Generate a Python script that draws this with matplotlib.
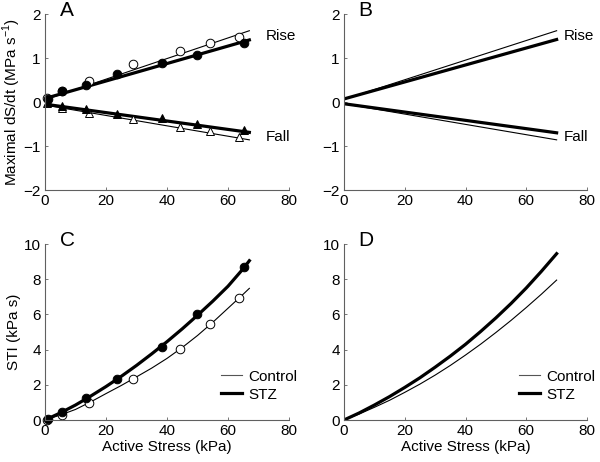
import numpy as np
import matplotlib
matplotlib.use('Agg')
matplotlib.rcParams['font.family'] = 'Liberation Sans'
matplotlib.rcParams['mathtext.fontset'] = 'custom'
matplotlib.rcParams['mathtext.rm'] = 'Liberation Sans'
import matplotlib.pyplot as plt

# panel A: measured points
stress_ctl = [0.5, 5.5, 14.5, 28.7, 44.2, 54.2, 63.6]
stress_stz = [1.1, 5.7, 13.4, 23.5, 38.2, 49.7, 65.3]
rise_ctl = [0.08, 0.26, 0.48, 0.86, 1.17, 1.33, 1.48]
rise_stz = [0.07, 0.24, 0.39, 0.63, 0.89, 1.06, 1.33]
fall_ctl = [-0.02, -0.13, -0.24, -0.39, -0.56, -0.66, -0.79]
fall_stz = [0.0, -0.09, -0.17, -0.28, -0.37, -0.49, -0.64]

# panel A fits (end points)
fitA_x = [0, 67]
fitA_rise_ctl = [0.05, 1.62]
fitA_rise_stz = [0.08, 1.41]
fitA_fall_ctl = [-0.07, -0.86]
fitA_fall_stz = [-0.05, -0.69]

# panel B model lines
lineB_x = [0, 70]
lineB_rise_ctl = [0.06, 1.62]
lineB_rise_stz = [0.07, 1.42]
lineB_fall_ctl = [-0.04, -0.86]
lineB_fall_stz = [-0.04, -0.70]

# panel C: STI points and fitted curves
sti_ctl = [0.0, 0.28, 0.98, 2.33, 4.03, 5.47, 6.93]
sti_stz = [0.06, 0.44, 1.23, 2.33, 4.17, 6.00, 8.71]
fitC_x = [0, 5, 10, 15, 20, 25, 30, 35, 40, 45, 50, 55, 60, 65, 67]
fitC_ctl = [0.0, 0.28, 0.6, 1.03, 1.5, 1.96, 2.45, 2.95, 3.5, 4.12, 4.8,
            5.55, 6.35, 7.15, 7.48]
fitC_stz = [0.0, 0.4, 0.85, 1.36, 1.9, 2.48, 3.1, 3.76, 4.45, 5.18, 5.95,
            6.75, 7.6, 8.6, 9.05]

# panel D model curves
curveD_x = [0, 5, 10, 15, 20, 25, 30, 35, 40, 45, 50, 55, 60, 65, 70]
curveD_ctl = [0.0, 0.34, 0.72, 1.12, 1.57, 2.04, 2.55, 3.1, 3.69, 4.31,
              4.97, 5.66, 6.39, 7.15, 7.95]
curveD_stz = [0.0, 0.4, 0.85, 1.33, 1.85, 2.4, 3.0, 3.63, 4.3, 5.03, 5.8,
              6.62, 7.5, 8.45, 9.45]

fig = plt.figure(figsize=(6, 4.62), dpi=100)
W, H = 600.0, 462.0
def make_ax(l, r, t, b):
    ax = fig.add_axes([l / W, 1 - b / H, (r - l) / W, (b - t) / H])
    for s in ['top', 'right']:
        ax.spines[s].set_visible(False)
    for s in ['left', 'bottom']:
        ax.spines[s].set_color('#606060')
        ax.spines[s].set_linewidth(0.8)
    ax.tick_params(direction='in', length=2.5, width=0.6, color='#606060',
                   labelsize=11)
    ax.tick_params(axis='x', pad=3)
    ax.tick_params(axis='y', pad=3)
    ax.set_xlim(0, 80)
    ax.set_xticks([0, 20, 40, 60, 80])
    return ax

axA = make_ax(45, 289, 14, 190)
axB = make_ax(344, 587, 14, 190)
axC = make_ax(45, 289, 244, 420)
axD = make_ax(344, 587, 244, 420)

thin = 0.8
thick = 2.3
mo = dict(markersize=6.2, markeredgewidth=0.7, clip_on=False, linestyle='none')

# A
axA.plot(fitA_x, fitA_rise_ctl, color='k', lw=thin)
axA.plot(fitA_x, fitA_rise_stz, color='k', lw=thick)
axA.plot(fitA_x, fitA_fall_ctl, color='k', lw=thin)
axA.plot(fitA_x, fitA_fall_stz, color='k', lw=thick)
axA.plot(stress_ctl, rise_ctl, marker='o', mfc='white', mec='k', **mo)
axA.plot(stress_stz, rise_stz, marker='o', mfc='k', mec='k', **mo)
axA.plot(stress_ctl, fall_ctl, marker='^', mfc='white', mec='k', **mo)
axA.plot(stress_stz, fall_stz, marker='^', mfc='k', mec='k', **mo)

# B
axB.plot(lineB_x, lineB_rise_ctl, color='k', lw=thin)
axB.plot(lineB_x, lineB_rise_stz, color='k', lw=thick)
axB.plot(lineB_x, lineB_fall_ctl, color='k', lw=thin)
axB.plot(lineB_x, lineB_fall_stz, color='k', lw=thick)

for ax in (axA, axB):
    ax.set_ylim(-2, 2)
    ax.set_yticks([-2, -1, 0, 1, 2])
    ax.text(72.5, 1.5, 'Rise', fontsize=11, va='center', clip_on=False)
    ax.text(72.5, -0.79, 'Fall', fontsize=11, va='center', clip_on=False)
axA.set_ylabel('Maximal dS/dt (MPa s$^{-1}$)', fontsize=11, labelpad=0.5)

# C
axC.plot(fitC_x, fitC_ctl, color='k', lw=thin, label='Control')
axC.plot(fitC_x, fitC_stz, color='k', lw=thick, label='STZ')
axC.plot(stress_ctl, sti_ctl, marker='o', mfc='white', mec='k', **mo)
axC.plot(stress_stz, sti_stz, marker='o', mfc='k', mec='k', **mo)

# D
axD.plot(curveD_x, curveD_ctl, color='k', lw=thin, label='Control')
axD.plot(curveD_x, curveD_stz, color='k', lw=thick, label='STZ')

for ax in (axC, axD):
    ax.set_ylim(0, 10)
    ax.set_yticks([0, 2, 4, 6, 8, 10])
    ax.set_xlabel('Active Stress (kPa)', fontsize=11, labelpad=1)
    leg = ax.legend(loc='lower right', frameon=False, fontsize=11,
                    handlelength=1.4, handletextpad=0.4, labelspacing=0.25,
                    bbox_to_anchor=(1.06, 0.07), borderaxespad=0)
    leg.get_lines()[0].set_color('#555555')
axC.set_ylabel('STI (kPa s)', fontsize=11, labelpad=2)

for ax, lab in ((axA, 'A'), (axB, 'B'), (axC, 'C'), (axD, 'D')):
    ax.text(0.06, 1.02, lab, transform=ax.transAxes, fontsize=15,
            va='center', ha='left')

fig.savefig('out.png', dpi=100)
